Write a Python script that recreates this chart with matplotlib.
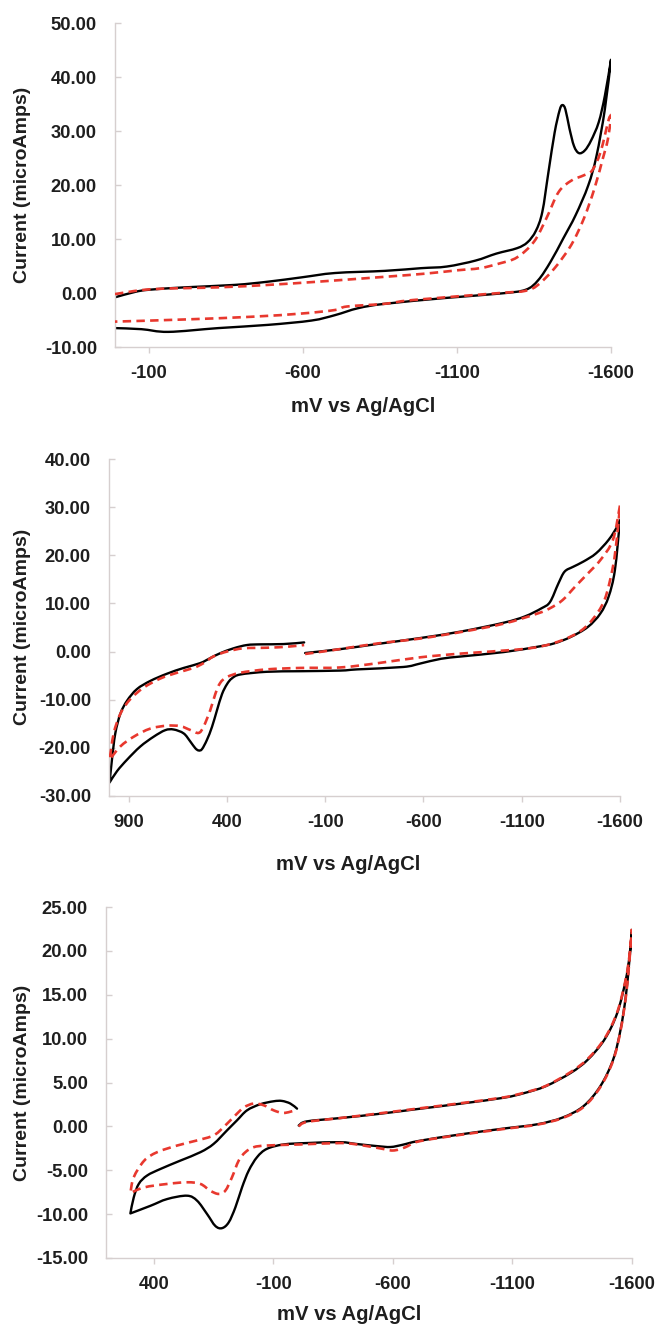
import matplotlib
matplotlib.use("Agg")
import matplotlib.pyplot as plt
import numpy as np
from matplotlib.path import Path
from matplotlib.patches import PathPatch
from matplotlib.ticker import FormatStrFormatter

plt.rcParams['font.family'] = ['Liberation Sans', 'DejaVu Sans']
plt.rcParams['axes.unicode_minus'] = False

# ---------------- data (mV vs Ag/AgCl, current in microAmps) ----------------
# Panel 1
p1_black_mv = [10, -55, -100, -217, -379, -487, -596, -704, -866, -984, -1067, -1160, -1228, -1295,
               -1329, -1356, -1377, -1397, -1417, -1433, -1442, -1452, -1465, -1480, -1496, -1515,
               -1535, -1560, -1580, -1600, -1580, -1553, -1526, -1485, -1445, -1404, -1364, -1323,
               -1240, -1067, -866, -780, -704, -628, -487, -325, -163, -76, 10]
p1_black_ua = [-0.8, 0.2, 0.6, 1.05, 1.5, 2.1, 2.9, 3.7, 4.1, 4.6, 4.9, 6.0, 7.3, 8.3,
               9.4, 11.5, 15.0, 22.4, 29.7, 33.8, 34.8, 34.0, 30.5, 27.2, 25.9, 26.4,
               28.2, 31.6, 36.5, 43.2, 34.0, 25.4, 19.9, 14.4, 10.1, 5.8, 2.4, 0.6,
               -0.1, -0.9, -2.0, -2.8, -4.1, -5.1, -5.9, -6.5, -7.2, -6.7, -6.5]
p1_red_mv = [10, -109, -325, -487, -650, -866, -1000, -1100, -1175, -1240, -1295, -1350, -1390,
             -1430, -1471, -1512, -1539, -1566, -1593, -1600, -1590, -1573, -1546, -1512, -1471,
             -1417, -1363, -1322, -1240, -957, -866, -743, -704, -596, -433, -217, 10]
p1_red_ua = [-0.2, 0.7, 1.05, 1.5, 2.1, 3.0, 3.6, 4.2, 4.6, 5.5, 6.6, 9.5, 13.8,
             18.7, 20.8, 21.8, 22.7, 26.1, 32.2, 32.5, 28.5, 24.8, 19.3, 13.8, 8.9,
             4.6, 1.5, 0.4, 0.0, -1.3, -2.0, -2.5, -3.15, -3.8, -4.4, -4.9, -5.3]

# Panel 2
p2_black_mv = [2, -176, -369, -582, -796, -1009, -1116, -1201, -1244, -1286, -1318, -1361, -1414,
               -1478, -1542, -1585, -1600, -1574, -1542, -1500, -1436, -1350, -1265, -1180, -1009,
               -796, -689, -582, -497, -263, -176, 27, 197, 332, 375, 400, 425, 451, 476, 502,
               527, 544, 561, 586, 620, 671, 714, 773, 841, 908, 959, 997, 985, 968, 942, 908,
               858, 790, 705, 620, 536, 485, 434, 366, 298, 230, 112, 7]
p2_black_ua = [-0.3, 0.5, 1.6, 2.8, 4.2, 6.0, 7.3, 9.0, 10.3, 14.1, 16.6, 17.6, 18.7,
               20.4, 23.2, 25.9, 27.3, 16.9, 11.4, 7.9, 5.1, 3.05, 1.7, 1.0, -0.1,
               -1.0, -1.5, -2.5, -3.2, -3.7, -3.95, -4.08, -4.2, -4.76, -5.58, -6.8, -8.84, -12.24, -15.65, -18.37,
               -20.27, -20.54, -20.07, -18.7, -17.0, -16.19, -16.33, -17.69, -19.73, -22.45, -24.83, -27.2, -22.45, -17.0, -12.9, -10.2,
               -7.8, -6.1, -4.6, -3.4, -2.4, -1.36, -0.34, 0.68, 1.36, 1.5, 1.56, 1.9]
p2_red_mv = [2, -156, -369, -582, -796, -1009, -1180, -1244, -1308, -1372, -1436, -1500, -1564,
             -1600, -1585, -1564, -1521, -1457, -1393, -1308, -1201, -1073, -796, -582, -369,
             -176, 27, 197, 332, 400, 434, 459, 485, 519, 544, 586, 637, 705, 790, 875, 942,
             997, 976, 942, 892, 824, 739, 654, 570, 519, 468, 400, 315, 197, 95, 7]
p2_red_ua = [-0.5, 0.4, 1.7, 2.7, 4.1, 5.8, 7.9, 9.0, 10.7, 13.5, 16.2, 19.0, 23.2,
             30.4, 23.9, 17.6, 10.7, 6.5, 4.1, 2.4, 1.1, 0.4, -0.4, -1.2, -2.4,
             -3.3, -3.4, -3.7, -4.4, -5.3, -6.5, -8.8, -12.2, -15.6, -16.9, -16.3, -15.5, -15.4, -16.0, -17.7, -19.7,
             -22.45, -17.0, -12.9, -9.9, -7.5, -5.6, -4.4, -3.4, -2.4, -1.0, 0.0, 0.68, 0.8, 1.0, 1.36]

# Panel 3
p3_black_mv = [-206, -240, -380, -534, -710, -886, -1063, -1150, -1239, -1344, -1415, -1485, -1538,
               -1574, -1590, -1600, -1588, -1574, -1552, -1521, -1468, -1397, -1309, -1204, -1063,
               -886, -710, -640, -590, -534, -446, -380, -240, -143, -73, -32, 3, 31, 59, 87,
               115, 143, 177, 219, 261, 344, 414, 498, 484, 463, 428, 372, 289, 205, 150, 94,
               52, 10, -45, -101, -136, -171, -199]
p3_black_ua = [0.1, 0.57, 0.95, 1.4, 2.0, 2.6, 3.26, 3.8, 4.58, 6.1, 7.6, 9.9, 12.9,
               16.7, 19.5, 22.4, 18.6, 14.8, 11.0, 7.6, 4.6, 2.3, 1.0, 0.24, -0.25,
               -0.9, -1.65, -2.1, -2.35, -2.25, -2.0, -1.8, -1.9, -2.06, -2.56, -3.5, -5.04, -6.95, -9.24, -10.95,
               -11.6, -11.34, -10.0, -8.47, -7.9, -8.28, -9.05, -9.92, -8.1, -6.56, -5.6, -4.85, -3.9, -2.94, -2.0, -0.46,
               0.69, 1.83, 2.52, 2.86, 2.9, 2.6, 2.02]
p3_red_mv = [-206, -240, -380, -534, -710, -886, -1063, -1150, -1239, -1344, -1415, -1485, -1538,
             -1574, -1590, -1600, -1588, -1574, -1552, -1521, -1468, -1397, -1309, -1204, -1063,
             -886, -710, -650, -600, -545, -446, -380, -212, -73, -18, 17, 45, 73, 101, 129,
             164, 205, 261, 344, 440, 498, 484, 440, 386, 302, 219, 150, 108, 66, 24, -18,
             -60, -101, -143, -192]
p3_red_ua = [0.0, 0.5, 0.95, 1.45, 2.05, 2.65, 3.3, 3.85, 4.6, 6.2, 7.7, 10.0, 13.0,
             16.8, 19.6, 22.5, 18.5, 14.7, 10.9, 7.5, 4.5, 2.2, 0.95, 0.2, -0.3,
             -0.95, -1.7, -2.4, -2.75, -2.5, -2.05, -1.9, -2.06, -2.18, -2.37, -2.94, -3.9, -5.8, -7.33, -7.7,
             -7.33, -6.56, -6.37, -6.56, -6.95, -7.6, -5.8, -3.9, -2.94, -2.18, -1.6, -1.03, -0.08, 1.07, 2.14, 2.6,
             2.4, 1.83, 1.53, 1.83]

x_label = "mV vs Ag/AgCl"
y_label = "Current (microAmps)"


def smoothed_path(xs, ys):
    """Excel-style smoothed line: cubic Bezier through the data points,
    split at the scan's turning points (potential extremes)."""
    x = np.asarray(xs, float)
    y = np.asarray(ys, float)
    n = len(x)
    breaks = sorted({0, n - 1, int(np.argmin(x)), int(np.argmax(x))})
    verts, codes = [], []
    for a, b in zip(breaks[:-1], breaks[1:]):
        px, py = x[a:b + 1], y[a:b + 1]
        m = len(px)
        verts.append((px[0], py[0]))
        codes.append(Path.MOVETO if a == 0 else Path.LINETO)
        for i in range(m - 1):
            i0 = max(i - 1, 0)
            i3 = min(i + 2, m - 1)
            c1 = (px[i] + (px[i + 1] - px[i0]) / 6.0, py[i] + (py[i + 1] - py[i0]) / 6.0)
            c2 = (px[i + 1] - (px[i3] - px[i]) / 6.0, py[i + 1] - (py[i3] - py[i]) / 6.0)
            verts += [c1, c2, (px[i + 1], py[i + 1])]
            codes += [Path.CURVE4] * 3
    return Path(verts, codes)


panels = [
    dict(black=(p1_black_mv, p1_black_ua), red=(p1_red_mv, p1_red_ua),
         xlim=(10, -1600), xticks=[-100, -600, -1100, -1600],
         ylim=(-10, 50), ystep=10,
         rect=[115 / 658, 1 - 347 / 1326, (611 - 115) / 658, (347 - 23) / 1326],
         xlab=(363 / 658, 1 - 407 / 1326), ylab=(23 / 658, 1 - 185 / 1326)),
    dict(black=(p2_black_mv, p2_black_ua), red=(p2_red_mv, p2_red_ua),
         xlim=(1000, -1600), xticks=[900, 400, -100, -600, -1100, -1600],
         ylim=(-30, 40), ystep=10,
         rect=[109 / 658, 1 - 796 / 1326, (620 - 109) / 658, (796 - 459) / 1326],
         xlab=(348 / 658, 1 - 865 / 1326), ylab=(23 / 658, 1 - 627 / 1326)),
    dict(black=(p3_black_mv, p3_black_ua), red=(p3_red_mv, p3_red_ua),
         xlim=(600, -1600), xticks=[400, -100, -600, -1100, -1600],
         ylim=(-15, 25), ystep=5,
         rect=[106 / 658, 1 - 1258 / 1326, (632 - 106) / 658, (1258 - 907) / 1326],
         xlab=(349 / 658, 1 - 1315 / 1326), ylab=(23 / 658, 1 - 1083 / 1326)),
]

fig = plt.figure(figsize=(6.58, 13.26), dpi=100)
fig.patch.set_facecolor('white')

spine_col = '#d6cfcf'
txt_col = '#1e1e1e'
red = '#e8382e'

for p in panels:
    ax = fig.add_axes(p['rect'])
    ax.add_patch(PathPatch(smoothed_path(*p['black']), fill=False, edgecolor='black',
                           lw=1.7, capstyle='round', joinstyle='round', zorder=2))
    ax.add_patch(PathPatch(smoothed_path(*p['red']), fill=False, edgecolor=red,
                           lw=1.9, linestyle=(0, (3.2, 2.0)), capstyle='butt', zorder=3))
    ax.set_xlim(*p['xlim'])
    ax.set_ylim(*p['ylim'])
    ax.set_xticks(p['xticks'])
    lo, hi = p['ylim']
    yt = list(range(lo, hi + 1, p['ystep']))
    ax.set_yticks(yt)
    ax.yaxis.set_major_formatter(FormatStrFormatter('%.2f'))
    for s in ['top', 'right']:
        ax.spines[s].set_visible(False)
    for s in ['left', 'bottom']:
        ax.spines[s].set_color(spine_col)
        ax.spines[s].set_linewidth(1.0)
    ax.tick_params(axis='y', direction='in', length=4, width=1, color=spine_col,
                   pad=13, labelsize=13.2, labelcolor=txt_col)
    ax.tick_params(axis='x', direction='out', length=4, width=1, color=spine_col,
                   pad=9, labelsize=13.2, labelcolor=txt_col)
    for lab in ax.get_xticklabels() + ax.get_yticklabels():
        lab.set_fontweight('bold')
    fig.text(p['xlab'][0], p['xlab'][1], x_label, ha='center', va='center',
             fontsize=14.6, fontweight='bold', color=txt_col)
    fig.text(p['ylab'][0], p['ylab'][1], y_label, ha='center', va='center',
             rotation=90, fontsize=14, fontweight='bold', color=txt_col)

fig.savefig('out.png', dpi=100, facecolor='white')
